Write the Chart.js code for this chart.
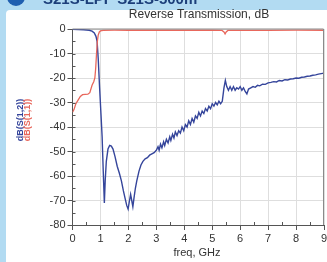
<!DOCTYPE html>
<html>
<head>
<meta charset="utf-8">
<script src="https://cdn.jsdelivr.net/npm/chart.js@4"></script>
<style>
  html, body { margin: 0; padding: 0; background: #b2dbf2; }
  #wrap { width: 327px; height: 262px; }
</style>
</head>
<body>
<div id="wrap"><canvas id="myChart" width="327" height="262"></canvas></div>
<script>
// DATOS
const freqS12 = [0, 0.2, 0.4, 0.6, 0.7, 0.78, 0.84, 0.88, 0.92, 0.97, 1.02, 1.06, 1.1, 1.14, 1.17, 1.21, 1.27, 1.33, 1.39, 1.45,
  1.52, 1.6, 1.68, 1.75, 1.82, 1.88, 1.94, 1.99, 2.04, 2.08, 2.12, 2.16, 2.2, 2.25, 2.3, 2.38, 2.45, 2.52, 2.6, 2.68,
  2.76, 2.84, 2.92, 3.0, 3.06, 3.1, 3.15, 3.2, 3.26, 3.3, 3.36, 3.42, 3.48, 3.52, 3.58, 3.63, 3.68, 3.74, 3.8, 3.86,
  3.92, 3.98, 4.04, 4.1, 4.16, 4.22, 4.28, 4.34, 4.4, 4.46, 4.52, 4.58, 4.64, 4.7, 4.76, 4.82, 4.88, 4.94, 5.0, 5.06,
  5.12, 5.18, 5.24, 5.3, 5.36, 5.42, 5.47, 5.52, 5.58, 5.64, 5.7, 5.76, 5.82, 5.88, 5.94, 6.0, 6.06, 6.12, 6.18, 6.24,
  6.3, 6.38, 6.46, 6.54, 6.62, 6.7, 6.8, 6.9, 7.0, 7.1, 7.2, 7.3, 7.4, 7.5, 7.6, 7.7, 7.8, 7.9, 8.0, 8.1,
  8.2, 8.3, 8.4, 8.5, 8.6, 8.7, 8.8, 8.9, 9.0]
const valS12 = [-0.1, -0.2, -0.3, -0.5, -0.9, -1.6, -3, -5, -12, -24, -35, -44, -58, -71, -62, -54, -49, -47.5, -47.8, -49,
  -52, -56, -59, -62, -66, -69, -72, -73.5, -70, -67.5, -70, -72.5, -69, -65, -62, -58, -55.5, -54, -53, -52.5,
  -51.5, -51, -50.5, -49.5, -48, -49.5, -47, -48.5, -46, -47.5, -45, -46.5, -44, -45.5, -43, -44.5, -42, -43.5, -41.5, -42.5,
  -40, -41.5, -39, -40, -37.5, -39, -36.5, -38, -35.5, -36.5, -34, -35.5, -33.5, -34.5, -32.5, -33.5, -31.5, -32.5, -30.5, -31.5,
  -30, -31, -29.5, -30.5, -29.5, -24, -21, -23.5, -25, -23.5, -25, -23.5, -25, -24, -24.5, -23.5, -25, -24, -25.5, -26.5,
  -24.5, -24, -23.5, -23.8, -23, -23.2, -22.5, -22.6, -22, -21.8, -21.5, -21.6, -21, -21.2, -20.7, -20.8, -20.4, -20.3, -20, -20.1,
  -19.7, -19.6, -19.3, -19.2, -18.9, -18.7, -18.4, -18.2, -18]

const freqS11 = [0, 0.05, 0.12, 0.2, 0.28, 0.36, 0.45, 0.55, 0.62, 0.7, 0.76, 0.8, 0.83, 0.86, 0.89, 0.92, 0.96, 1.0, 1.1, 1.5,
  2.0, 3.0, 4.0, 5.0, 5.35, 5.42, 5.46, 5.5, 5.56, 6.0, 7.0, 8.0, 9.0]
const valS11 = [-34, -33, -30.5, -29, -27.5, -26.8, -26.7, -26.6, -26, -23, -21.5, -20, -16, -10, -5, -2.5, -1.2, -0.8, -0.6, -0.5,
  -0.5, -0.5, -0.5, -0.5, -0.6, -1.2, -2, -1.2, -0.6, -0.6, -0.6, -0.5, -0.5]

const ticksX = [0, 1, 2, 3, 4, 5, 6, 7, 8, 9]
const ticksY = [0, -10, -20, -30, -40, -50, -60, -70, -80]

const titulo = 'Reverse Transmission, dB'
const tituloX = 'freq, GHz'
const cabecera = 'S21S-LPF S21S-500m'

const AZUL = '#35459b'
const ROJO = '#e8675c'
const FUENTE = '"Liberation Sans", Arial, sans-serif'

const pares = (xs, ys) => xs.map((x, i) => ({ x: x, y: ys[i] }))

// FONDO, TEXTOS Y TICKS MENORES
const decoracion = {
  id: 'decoracion',
  beforeDraw: (chart) => {
    const ctx = chart.ctx
    ctx.save()
    ctx.fillStyle = '#b2dbf2'
    ctx.fillRect(0, 0, chart.width, chart.height)
    ctx.fillStyle = '#ffffff'
    ctx.beginPath()
    ctx.roundRect(6, 10, chart.width, chart.height, 4)
    ctx.fill()

    // cabecera cortada
    ctx.fillStyle = '#1f5fb0'
    ctx.beginPath()
    ctx.arc(16, -3, 9, 0, Math.PI * 2)
    ctx.fill()
    ctx.fillStyle = '#1c3f7a'
    ctx.font = 'bold 15px ' + FUENTE
    ctx.textBaseline = 'alphabetic'
    ctx.textAlign = 'left'
    ctx.fillText(cabecera, 43, 4)
    ctx.restore()
  },
  afterDraw: (chart) => {
    const ctx = chart.ctx
    const a = chart.chartArea
    const sx = chart.scales.x
    const sy = chart.scales.y
    ctx.save()

    // borde derecho y superior
    ctx.strokeStyle = '#8a8a8a'
    ctx.lineWidth = 1
    ctx.beginPath()
    ctx.moveTo(a.right - 0.5, a.bottom)
    ctx.lineTo(a.right - 0.5, a.top)
    ctx.lineTo(a.left, a.top)
    ctx.stroke()

    // ticks menores
    ctx.strokeStyle = '#555'
    ctx.beginPath()
    for (let f = 0.5; f < 9; f += 1) {
      const px = Math.round(sx.getPixelForValue(f)) + 0.5
      ctx.moveTo(px, a.bottom)
      ctx.lineTo(px, a.bottom - 3)
    }
    for (let d = -5; d > -80; d -= 5) {
      const py = Math.round(sy.getPixelForValue(d)) + 0.5
      ctx.moveTo(a.left, py)
      ctx.lineTo(a.left + 3, py)
    }
    ctx.stroke()

    // titulo
    ctx.fillStyle = '#333'
    ctx.font = '12px ' + FUENTE
    ctx.textAlign = 'center'
    ctx.textBaseline = 'middle'
    ctx.fillText(titulo, 199, 15)

    // titulo eje x
    ctx.font = '11px ' + FUENTE
    ctx.fillText(tituloX, 197, 253)

    // titulos eje y
    ctx.font = 'bold 9px ' + FUENTE
    ctx.translate(20.5, 120)
    ctx.rotate(-Math.PI / 2)
    ctx.fillStyle = AZUL
    ctx.fillText('dB(S(1,2))', 0, 0)
    ctx.fillStyle = ROJO
    ctx.fillText('dB(S(1,1))', 0, 7.5)
    ctx.restore()
  }
}

// GRAFICO
const chart = new Chart(document.getElementById('myChart'), {
  type: 'line',
  data: {
    datasets: [
      {
        label: 'dB(S(1,1))',
        data: pares(freqS11, valS11),
        borderColor: ROJO,
        borderWidth: 1.3,
        pointRadius: 0,
        tension: 0
      },
      {
        label: 'dB(S(1,2))',
        data: pares(freqS12, valS12),
        borderColor: AZUL,
        borderWidth: 1.4,
        pointRadius: 0,
        tension: 0
      }
    ]
  },
  options: {
    responsive: false,
    animation: false,
    devicePixelRatio: 1,
    layout: { padding: { left: 0, top: 29, right: 3, bottom: 0 } },
    plugins: {
      legend: { display: false },
      title: { display: false },
      tooltip: { enabled: false }
    },
    scales: {
      x: {
        type: 'linear',
        min: 0,
        max: 9,
        afterBuildTicks: (s) => { s.ticks = ticksX.map(v => ({ value: v })) },
        afterFit: (s) => { s.height = 37; s.paddingLeft = 0; s.paddingRight = 0 },
        ticks: {
          color: '#333',
          font: { family: FUENTE, size: 11 },
          padding: 2,
          maxRotation: 0
        },
        grid: {
          color: '#dedede',
          tickColor: '#555',
          tickLength: 5,
          drawTicks: true
        },
        border: { color: '#555', width: 1 }
      },
      y: {
        type: 'linear',
        min: -80,
        max: 0,
        afterBuildTicks: (s) => { s.ticks = ticksY.map(v => ({ value: v })) },
        afterFit: (s) => { s.width = 72.5; s.paddingTop = 0; s.paddingBottom = 0 },
        ticks: {
          color: '#333',
          font: { family: FUENTE, size: 11 },
          padding: 2
        },
        grid: {
          color: '#dedede',
          tickColor: '#555',
          tickLength: 5
        },
        border: { color: '#555', width: 1 }
      }
    }
  },
  plugins: [decoracion]
})
</script>
</body>
</html>
